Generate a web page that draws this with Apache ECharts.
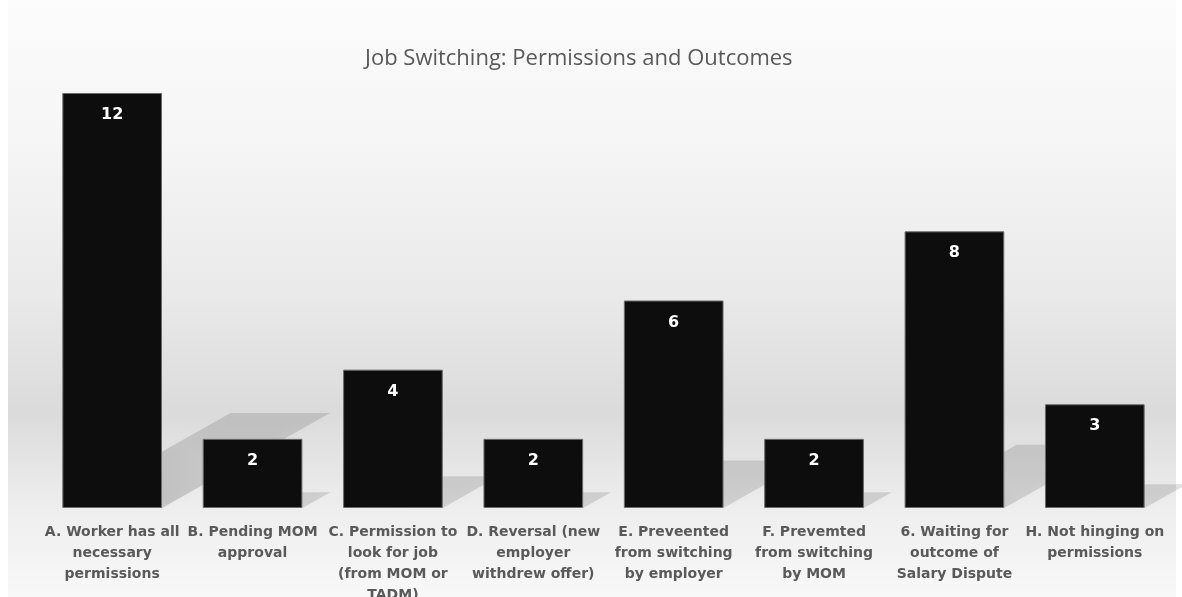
<!DOCTYPE html>
<html><head><meta charset="utf-8">
<script src="https://cdn.jsdelivr.net/npm/echarts@6/dist/echarts.min.js"></script>
<style>html,body{margin:0;padding:0;background:#fff}#c{width:1182px;height:597px}</style>
</head><body><div id="c"></div>
<script>
const title = 'Job Switching: Permissions and Outcomes';
const categories = [
  'A. Worker has all\nnecessary\npermissions',
  'B. Pending MOM\napproval',
  'C. Permission to\nlook for job\n(from MOM or\nTADM)',
  'D. Reversal (new\nemployer\nwithdrew offer)',
  'E. Preveented\nfrom switching\nby employer',
  'F. Prevemted\nfrom switching\nby MOM',
  '6. Waiting for\noutcome of\nSalary Dispute',
  'H. Not hinging on\npermissions'
];
const values = [12, 2, 4, 2, 6, 2, 8, 3];

const chart = echarts.init(document.getElementById('c'));
const BAR_RATIO = 0.71;
chart.setOption({
  backgroundColor: '#ffffff',
  animation: false,
  graphic: [{
    type: 'rect', z: -10, silent: true,
    shape: { x: 8, y: 0, width: 1168, height: 597 },
    style: { fill: new echarts.graphic.LinearGradient(0, 0, 0, 1, [
      { offset: 0, color: '#fcfcfc' },
      { offset: 0.25, color: '#f5f5f5' },
      { offset: 0.5, color: '#e9e9e9' },
      { offset: 0.69, color: '#dbdbdb' },
      { offset: 0.76, color: '#e3e3e3' },
      { offset: 0.85, color: '#eeeeee' },
      { offset: 1, color: '#f8f8f8' }
    ]) }
  }],
  title: {
    text: title, left: 360, top: 43,
    textStyle: { fontFamily: 'Open Sans', fontWeight: 'normal', fontSize: 22, color: '#595959' }
  },
  grid: { left: 42, right: 17, top: 93, bottom: 89, outerBoundsMode: 'none', containLabel: false },
  xAxis: {
    type: 'category', data: categories,
    axisLine: { show: false }, axisTick: { show: false },
    axisLabel: { interval: 0, margin: 14, color: '#595959', fontFamily: 'DejaVu Sans', fontWeight: 'bold', fontSize: 14, lineHeight: 21, hideOverlap: false }
  },
  yAxis: { type: 'value', min: 0, max: 12, show: false, splitLine: { show: false } },
  series: [{
    type: 'custom', z: 1, silent: true,
    data: values.map((v, i) => [i, v]),
    renderItem: function (params, api) {
      const i = api.value(0), v = api.value(1);
      const base = api.coord([i, 0]);
      const top = api.coord([i, v]);
      const h = base[1] - top[1];
      const bw = api.size([1, 0])[0] * BAR_RATIO;
      const x0 = base[0] - bw / 2, x1 = base[0] + bw / 2;
      const dy = h * 0.229, dx = h * 0.405;
      const y0 = base[1];
      return {
        type: 'polygon',
        shape: { points: [[x0, y0], [x1, y0], [x1 + dx, y0 - dy], [x0 + dx, y0 - dy]] },
        style: {
          fill: new echarts.graphic.LinearGradient(0, 1, 0.3, 0, [
            { offset: 0, color: 'rgba(0,0,0,0.13)' },
            { offset: 0.6, color: 'rgba(0,0,0,0.17)' },
            { offset: 1, color: 'rgba(0,0,0,0.12)' }
          ]),
          shadowBlur: 8, shadowColor: 'rgba(0,0,0,0.10)'
        }
      };
    }
  }, {
    type: 'bar', z: 2, data: values, barWidth: (BAR_RATIO * 100) + '%',
    itemStyle: { color: '#0d0d0d', borderColor: '#6a6a6a', borderWidth: 1 },
    label: { show: true, position: 'insideTop', distance: 14, color: '#ffffff', fontFamily: 'DejaVu Sans', fontWeight: 'bold', fontSize: 16 }
  }]
});
</script></body></html>
